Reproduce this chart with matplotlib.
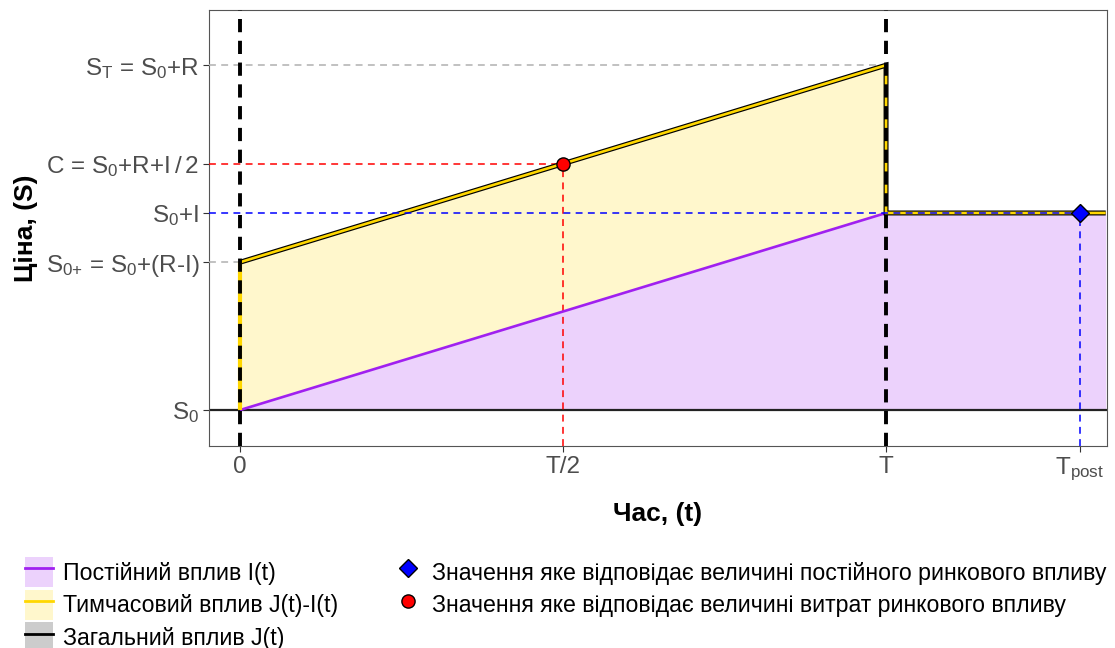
import matplotlib
matplotlib.use("Agg")
import matplotlib.pyplot as plt
from matplotlib.lines import Line2D
from matplotlib.patches import Patch

plt.rcParams['font.family'] = ['Liberation Sans', 'DejaVu Sans']
plt.rcParams['mathtext.fontset'] = 'custom'
plt.rcParams['mathtext.rm'] = 'Liberation Sans'
plt.rcParams['mathtext.default'] = 'regular'

# ---- data ----
t_I = [0.0, 1.0, 1.34]
I_vals = [0.0, 2.0, 2.0]
t_J = [0.0, 1.0, 1.0, 1.34]
J_vals = [1.5, 3.5, 2.0, 2.0]
t_jump = [0.0, 0.0]
jump_vals = [0.0, 1.5]
t_temp = [0.0, 1.0]
temp_low = [0.0, 2.0]
temp_high = [1.5, 3.5]
T_half, T_end, T_post = 0.5, 1.0, 1.3
S0, S0plus, S0I, C_val, ST = 0.0, 1.5, 2.0, 2.5, 3.5

xticks = [0, 0.5, 1.0, 1.3]
xlabels = ['0', 'T/2', 'T', 'T$_{post}$']
yticks = [0, 1.5, 2.0, 2.5, 3.5]
ylabels = ['S$_0$', 'S$_{0{+}}$ = S$_0$+(R-I)', 'S$_0$+I', r'C = S$_0$+R+I$\,$/$\,$2',
           'S$_T$ = S$_0$+R']

legend_left = ['Постійний вплив I(t)', 'Тимчасовий вплив J(t)-I(t)', 'Загальний вплив J(t)']
legend_right = ['Значення яке відповідає величині постійного ринкового впливу',
                'Значення яке відповідає величині витрат ринкового впливу']

purple = '#A020F0'
purple_fill = '#ECD2FC'
gold = '#FFD700'
gold_fill = '#FFF7CC'
grey_fill = '#CCCCCC'

W, H = 1115, 648
fig = plt.figure(figsize=(W / 100, H / 100), dpi=100)
ax = fig.add_axes([209 / W, 1 - 446 / H, (1107 - 209) / W, (446 - 10) / H])
XL, YB = -0.048, -0.365
ax.set_xlim(XL, 1.342)
ax.set_ylim(YB, 4.06)

# fills
ax.fill_between(t_I, S0, I_vals, color=purple_fill, lw=0, zorder=1)
ax.fill_between(t_temp, temp_low, temp_high, color=gold_fill, lw=0, zorder=1)

# baseline
ax.axhline(S0, color='#222222', lw=1.6, zorder=2)

thin = dict(lw=1.1, dashes=(4.5, 3.5))
# grey reference lines
ax.plot([XL, T_end], [ST, ST], color='#B0B0B0', zorder=3, **thin)
ax.plot([XL, 0], [S0plus, S0plus], color='#B0B0B0', zorder=3, **thin)
# red reference lines
ax.plot([XL, T_half], [C_val, C_val], color='#FF0000', zorder=3, **thin)
ax.plot([T_half, T_half], [YB, C_val], color='#FF0000', zorder=3, **thin)

# purple permanent impact line
ax.plot(t_I, I_vals, color=purple, lw=1.9, zorder=4, solid_capstyle='butt')

# total impact: black outline with gold center
ax.plot(t_J, J_vals, color='black', lw=3.6, zorder=5, solid_joinstyle='miter',
        solid_capstyle='butt')
ax.plot(t_J, J_vals, color=gold, lw=1.9, zorder=6, solid_joinstyle='miter',
        solid_capstyle='butt')
ax.plot(t_jump, jump_vals, color=gold, lw=3.0, zorder=6, solid_capstyle='butt')

# black dashed vertical lines at 0 and T
for xv in [0, T_end]:
    ax.axvline(xv, color='black', lw=2.8, dashes=(3.4, 2.2), zorder=7)

# blue reference lines
ax.plot([XL, T_post], [S0I, S0I], color='#0000FF', zorder=8, **thin)
ax.plot([T_post, T_post], [YB, S0I], color='#0000FF', zorder=8, **thin)

# markers
ax.plot([T_half], [C_val], marker='o', ms=9.5, mfc='#FF0000', mec='black', mew=1.0,
        ls='none', zorder=9)
ax.plot([T_post], [S0I], marker='D', ms=9, mfc='#0000FF', mec='black', mew=1.0,
        ls='none', zorder=9)

# axes styling
for s in ax.spines.values():
    s.set_color('#555555')
    s.set_linewidth(0.8)
ax.set_xticks(xticks)
ax.set_xticklabels(xlabels)
ax.set_yticks(yticks)
ax.set_yticklabels(ylabels)
ax.tick_params(axis='both', colors='#333333', length=4, width=0.8, labelsize=17.5,
               labelcolor='#4D4D4D', pad=3)
ax.set_xlabel('Час, (t)', fontsize=19, fontweight='bold')
ax.set_ylabel('Ціна, (S)', fontsize=19, fontweight='bold')
ax.xaxis.set_label_coords(0.5, (446 - 502) / 436)
ax.yaxis.set_label_coords((38 - 209) / 898, 0.5)

# legends
fs = 16.7
h_left = [
    (Patch(facecolor=purple_fill, edgecolor='none'), Line2D([], [], color=purple, lw=2)),
    (Patch(facecolor=gold_fill, edgecolor='none'), Line2D([], [], color=gold, lw=2)),
    (Patch(facecolor=grey_fill, edgecolor='none'), Line2D([], [], color='black', lw=2)),
]
leg_kw = dict(loc='upper left', frameon=False, fontsize=fs, handlelength=1.2,
              handleheight=1.63, labelspacing=0.1, handletextpad=0.43,
              borderpad=0, borderaxespad=0)
fig.legend(h_left, legend_left, bbox_to_anchor=(25 / W, 1 - 557 / H), **leg_kw)
h_right = [
    Line2D([], [], marker='D', ms=9, mfc='#0000FF', mec='black', mew=1.0, ls='none'),
    Line2D([], [], marker='o', ms=9.5, mfc='#FF0000', mec='black', mew=1.0, ls='none'),
]
fig.legend(h_right, legend_right, bbox_to_anchor=(394 / W, 1 - 557 / H), **leg_kw)

fig.savefig('out.png', dpi=100)
